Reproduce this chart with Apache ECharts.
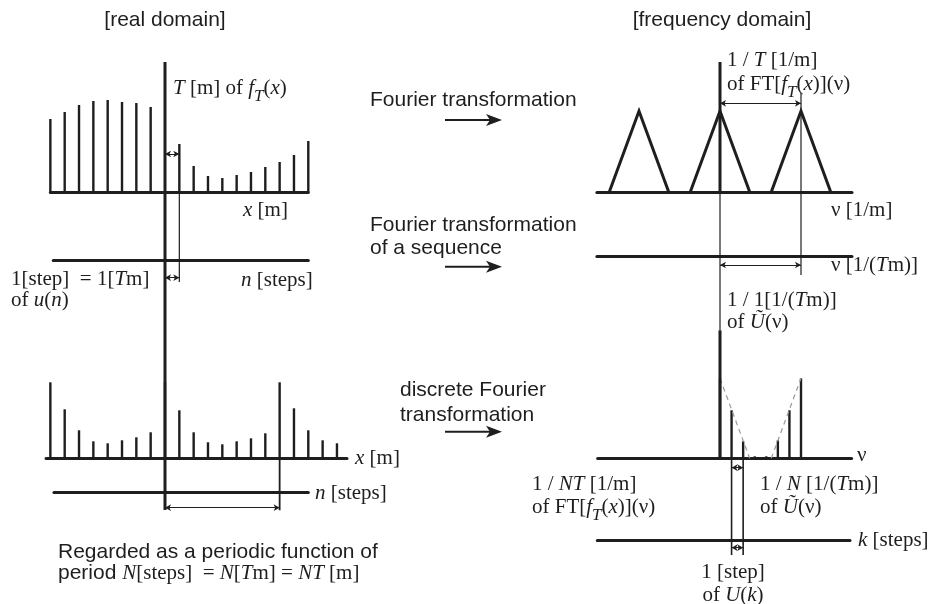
<!DOCTYPE html>
<html><head><meta charset="utf-8">
<script src="https://cdn.jsdelivr.net/npm/echarts@6/dist/echarts.min.js"></script>
<style>html,body{margin:0;padding:0;background:#fff}#c{width:929px;height:604px}</style>
</head><body><div id="c"></div>
<script>
// ---------------- data ----------------
const realSteps      = [-8,-7,-6,-5,-4,-3,-2,-1,1,2,3,4,5,6,7,8,9,10];
const realValues     = [73,80,87,91,92,90,89,85,48,26,16,14,17,20,25,30,37,51];
const periodicSteps  = [-8,-7,-6,-5,-4,-3,-2,-1,0,1,2,3,4,5,6,7,8,9,10,11,12];
const periodicValues = [76,49,28,17,15,18,21,26,76,48,26,16,14,17,20,25,76,50,28,18,15];
const periodSteps    = 8;
const spectrumCenters = [-1,0,1];
const spectrumHeights = [81,81,81];
const spectrumHalfWidth = 0.367;
const dftK      = [0,1,2,3,4,5,6,7];
const dftValues = [80,48,17,2,2,18,48,80];
const dftN      = 7;

// ---------------- styling / layout ----------------
const INK = '#1e1e1e';
const SERIF = '"Liberation Serif","Times New Roman",serif';
const SANS = '"Liberation Sans",Arial,sans-serif';
const L0 = 165, LS = 14.33;   // left column: pixel of n=0, pixels per step
const R0 = 720, RS = 81;      // right column: pixel of nu=0, pixels per unit
const panels = [
  {c:'L', min:-8,    max:10,    base:192,   h:130, lo:-100}, // 0 f_T(x)
  {c:'L', min:-7.8,  max:10,    base:260,   h:10,  lo:0},    // 1 u(n)
  {c:'L', min:-8.3,  max:12.7,  base:458.3, h:90,  lo:-60},  // 2 periodic
  {c:'L', min:-7.75, max:10,    base:492.7, h:10,  lo:0},    // 3 n axis
  {c:'R', min:-1.52, max:1.63,  base:192,   h:130, lo:-140}, // 4 FT
  {c:'R', min:-1.52, max:1.63,  base:256.7, h:10,  lo:0},    // 5 DTFT axis
  {c:'R', min:-1.51, max:1.625, base:458.3, h:130, lo:-100}, // 6 DFT
  {c:'R', min:-1.515,max:1.605, base:540,   h:10,  lo:0}     // 7 k axis
];
const grids = panels.map(p => {
  const o = p.c === 'L' ? L0 : R0, s = p.c === 'L' ? LS : RS;
  return {left: o + p.min * s, width: (p.max - p.min) * s, top: p.base - p.h, height: p.h - p.lo, outerBoundsMode: 'none'};
});
const xAxes = panels.map((p, i) => ({
  type:'value', gridIndex:i, min:p.min, max:p.max,
  axisLine:{show:true, onZero:true, lineStyle:{color:INK, width:3}},
  axisTick:{show:false}, axisLabel:{show:false}, splitLine:{show:false}
}));
const yAxes = panels.map((p, i) => ({type:'value', gridIndex:i, min:p.lo, max:p.h, show:false,
  axisLine:{show:false}, splitLine:{show:false}}));

function seg(g, pts, width, extra) {
  return Object.assign({type:'line', xAxisIndex:g, yAxisIndex:g, data:pts, symbol:'none', clip:false,
    silent:true, lineStyle:{color:INK, width:width, join:'miter'}, z:3}, extra || {});
}
function dims(list) {
  return {markLine:{symbol:['arrow','arrow'], symbolSize:[5,6], silent:true, label:{show:false},
    lineStyle:{color:INK, width:1, type:'solid'}, emphasis:{disabled:true}, animation:false,
    data:list.map(d => [{coord:[d[0], d[2]]}, {coord:[d[1], d[2]]}])}};
}
function stems(g, xs, ys) {
  return {type:'bar', xAxisIndex:g, yAxisIndex:g, barWidth:2.4, silent:true,
    itemStyle:{color:INK}, data:xs.map((x, i) => [x, ys[i]])};
}

const series = [];
// left top: f_T(x)
series.push(stems(0, realSteps, realValues));
series.push(seg(0, [[0,130],[0,-318]], 3));
series.push(seg(0, [[1,0],[1,-90]], 1.2, dims([[0,1,38],[0,1,-85.7]])));
// left bottom: periodic
series.push(stems(2, periodicSteps, periodicValues));
series.push(seg(2, [[periodSteps,0],[periodSteps,-52]], 1.8, dims([[0,periodSteps,-49.4]])));
// right top: FT triangles
spectrumCenters.forEach((c, i) => {
  series.push(seg(4, [[c - spectrumHalfWidth, 0],[c, spectrumHeights[i]],[c + spectrumHalfWidth, 0]], 3));
});
series.push(seg(4, [[0,0],[0,130]], 3));
series.push(seg(4, [[0,0],[0,-138]], 1.2));
series.push(seg(4, [[1,99],[1,-83]], 1.2, dims([[0,1,88.7],[0,1,-73]])));
// right bottom: DFT
series.push(stems(6, dftK.map(k => k / dftN), dftValues));
series.push(seg(6, [[0,0],[0,128]], 3));
const envL = [[spectrumCenters[1], spectrumHeights[1]-1],[spectrumCenters[1] + spectrumHalfWidth, 0]];
const envR = [[spectrumCenters[2] - spectrumHalfWidth, 0],[spectrumCenters[2], spectrumHeights[2]-1]];
[envL, envR].forEach(e => series.push(seg(6, e, 1.2, {lineStyle:{color:'#9a9a9a', width:1.2, type:[5,4]}, z:2})));
series.push(seg(6, [[1/dftN,0],[1/dftN,-96.7]], 1.6));
series.push(seg(6, [[2/dftN,0],[2/dftN,-96.7]], 1.6, dims([[1/dftN,2/dftN,-9.4],[1/dftN,2/dftN,-89.4]])));

// ---------------- texts ----------------
const RICH = {
  r:{font:`21px ${SERIF}`, fill:INK},
  i:{font:`italic 21px ${SERIF}`, fill:INK},
  s:{font:`italic 17px ${SERIF}`, fill:INK, padding:[18,0,0,0]},
  a:{font:`21px ${SANS}`, fill:INK}
};
function txt(x, y, text, align) {
  align = align || 'left';
  return {type:'text', x:x, y:y, silent:true, z:10, style:{text:text, rich:RICH, font:`21px ${SERIF}`, fill:INK,
    align:align, verticalAlign:'middle', textAlign:align, textVerticalAlign:'middle'}};
}
function arrow(x1, x2, y) {
  return {type:'group', silent:true, children:[
    {type:'line', shape:{x1:x1, y1:y, x2:x2-10, y2:y}, style:{stroke:INK, lineWidth:2}},
    {type:'polygon', shape:{points:[[x2-16,y-6],[x2,y],[x2-16,y+6],[x2-12,y]]}, style:{fill:INK}}
  ]};
}
const texts = [
  txt(165, 20, '{a|[real domain]}', 'center'),
  txt(722, 20, '{a|[frequency domain]}', 'center'),
  txt(173, 88, '{i|T}{r| [m] of }{i|f}{s|T}{r|(}{i|x}{r|)}'),
  txt(243, 210, '{i|x}{r| [m]}'),
  txt(241, 280, '{i|n}{r| [steps]}'),
  txt(11, 279, '{r|1[step]  = 1[}{i|T}{r|m]}'),
  txt(11, 300, '{r|of }{i|u}{r|(}{i|n}{r|)}'),
  txt(355, 458, '{i|x}{r| [m]}'),
  txt(315, 493, '{i|n}{r| [steps]}'),
  txt(58, 552, '{a|Regarded as a periodic function of}'),
  txt(58, 573, '{a|period }{i|N}{r|[steps]  = }{i|N}{r|[}{i|T}{r|m] = }{i|NT}{r| [m]}'),
  txt(370, 100, '{a|Fourier transformation}'),
  txt(370, 225, '{a|Fourier transformation}'),
  txt(370, 248, '{a|of a sequence}'),
  txt(400, 390, '{a|discrete Fourier}'),
  txt(400, 415, '{a|transformation}'),
  txt(727, 60, '{r|1 / }{i|T}{r| [1/m]}'),
  txt(727, 84, '{r|of FT[}{i|f}{s|T}{r|(}{i|x}{r|)](ν)}'),
  txt(831, 210, '{r|ν [1/m]}'),
  txt(831, 265, '{r|ν [1/(}{i|T}{r|m)]}'),
  txt(727, 300, '{r|1 / 1[1/(}{i|T}{r|m)]}'),
  txt(727, 322, '{r|of }{i|Ũ}{r|(ν)}'),
  txt(857, 455, '{r|ν}'),
  txt(532, 484, '{r|1 / }{i|NT}{r| [1/m]}'),
  txt(532, 507, '{r|of FT[}{i|f}{s|T}{r|(}{i|x}{r|)](ν)}'),
  txt(760, 484, '{r|1 / }{i|N}{r| [1/(}{i|T}{r|m)]}'),
  txt(760, 507, '{r|of }{i|Ũ}{r|(ν)}'),
  txt(858, 540, '{i|k}{r| [steps]}'),
  txt(733, 572, '{r|1 [step]}', 'center'),
  txt(733, 595, '{r|of }{i|U}{r|(}{i|k}{r|)}', 'center'),
  arrow(445, 502, 120),
  arrow(445, 502, 266.7),
  arrow(445, 502, 431.7)
];

const chart = echarts.init(document.getElementById('c'), null, {renderer:'canvas'});
chart.setOption({
  animation:false,
  backgroundColor:'#fff',
  grid:grids, xAxis:xAxes, yAxis:yAxes,
  series:series,
  graphic:texts
});
</script></body></html>
